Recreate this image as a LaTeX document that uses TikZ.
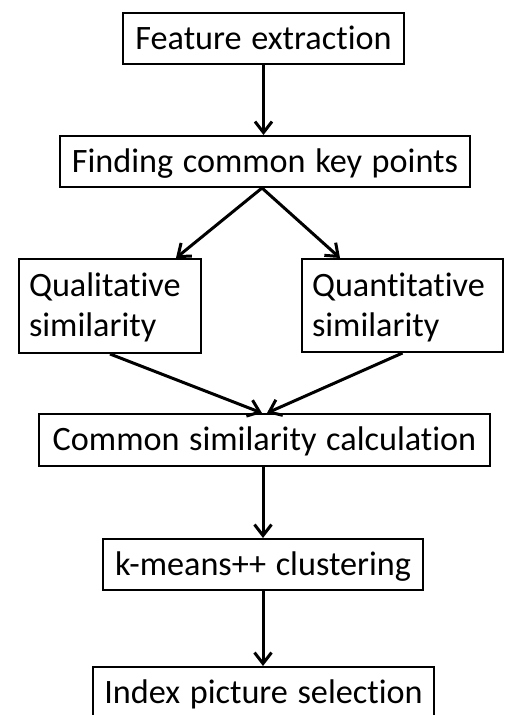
\documentclass[tikz,border=0pt]{standalone}
\usepackage{fontspec}
\setmainfont{Carlito}[Ligatures=NoCommon,WordSpace={1.25}]
\usetikzlibrary{arrows.meta,calc}
\begin{document}
\begin{tikzpicture}[x=1pt,y=-1pt,
  box/.style={draw, line width=2pt, inner sep=0pt, font=\fontsize{34.2}{41}\selectfont,
    text height=21.5pt, text depth=0pt},
  twobox/.style={draw, line width=2pt, inner xsep=10pt, inner ysep=0pt,
    font=\fontsize{34.2}{40}\selectfont, align=left, text height=21.5pt, text depth=40pt},
  arr/.style={line width=3pt, -{Straight Barb[length=11pt,width=17pt,line width=3pt]}}]
\useasboundingbox (0,0) rectangle (505,715);
\fill[white] (0,0) rectangle (505,715);
\node[box, minimum width=281pt, minimum height=51pt] (B1) at (263.5,38.5) {Feature extraction};
\node[box, minimum width=410pt, minimum height=51pt] (B2) at (265,161.5) {Finding common key points};
\node[twobox, text width=162pt, minimum height=94pt] (B3) at (110,306) {Qualitative\\similarity};
\node[twobox, text width=181pt, minimum height=93pt] (B4) at (402.5,305.5) {Quantitative\\similarity};
\node[box, minimum width=451pt, minimum height=52pt] (B5) at (264.5,440) {Common similarity calculation};
\node[box, minimum width=320pt, minimum height=51pt] (B6) at (263,564.5) {k-means++ clustering};
\node[box, minimum width=341pt, minimum height=51pt] (B7) at (263.5,692.5) {Index picture selection};
\draw[arr] (B1.south) -- (B1.south |- B2.north);
\draw[arr] ([xshift=-3pt]B2.south) -- ([xshift=-26pt]B3.north east);
\draw[arr] ([xshift=-3pt]B2.south) -- ([xshift=39pt]B4.north west);
\draw[arr] (B3.south) -- ([xshift=-2.5pt]B5.north);
\draw[arr] (B4.south) -- ([xshift=2.5pt]B5.north);
\draw[arr] (B6.north |- B5.south) -- (B6.north);
\draw[arr] (B6.south) -- (B6.south |- B7.north);
\end{tikzpicture}
\end{document}
